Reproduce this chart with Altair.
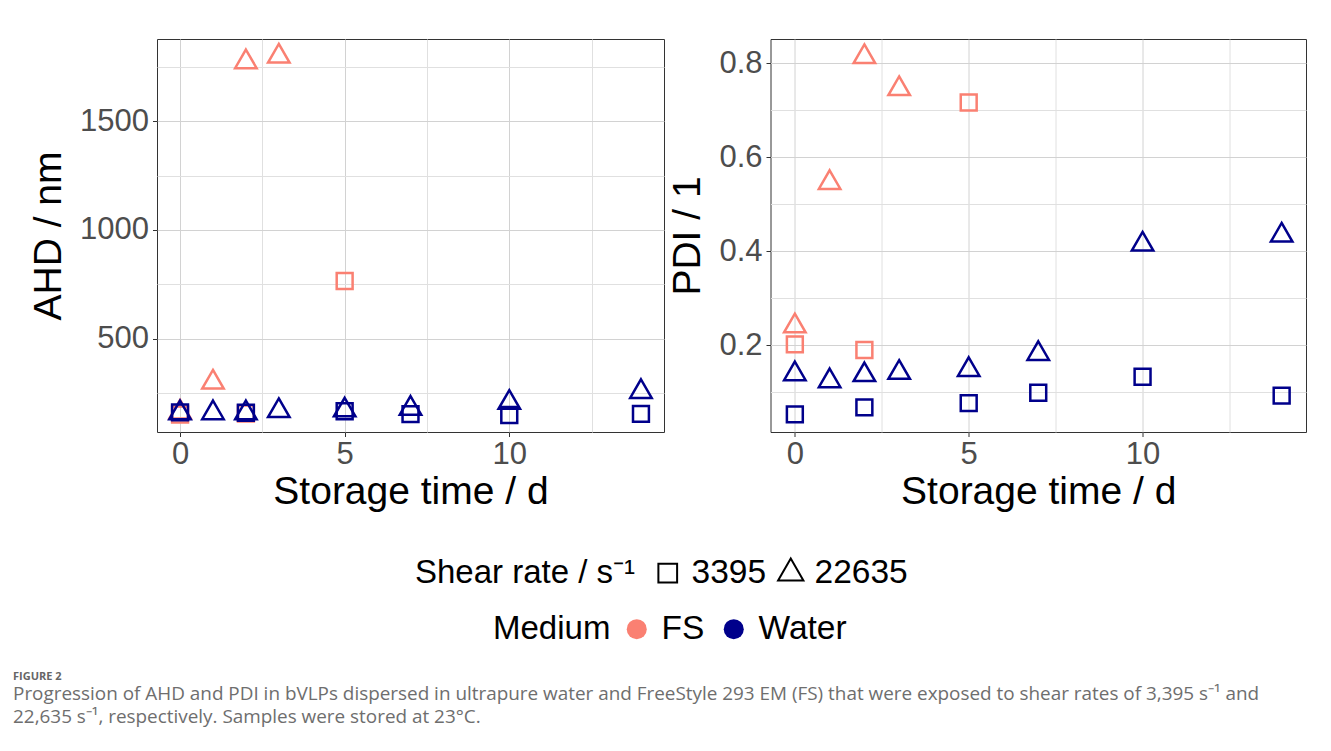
import altair as alt
import pandas as pd

# ---------------- data ----------------
times_fs_sq = [0, 2, 5]
times_fs_tri = [0, 1, 2, 3]
times_w_sq = [0, 2, 5, 7, 10, 14]
times_w_tri = [0, 1, 2, 3, 5, 7, 10, 14]

ahd_fs_sq = [150, 155, 765]
ahd_fs_tri = [160, 298, 1773, 1799]
ahd_w_sq = [160, 158, 165, 152, 148, 153]
ahd_w_tri = [157, 157, 157, 167, 170, 178, 205, 255]

pdi_fs_sq = [0.202, 0.190, 0.717]
pdi_fs_tri = [0.241, 0.546, 0.814, 0.746]
pdi_w_sq = [0.053, 0.068, 0.077, 0.099, 0.133, 0.093]
pdi_w_tri = [0.139, 0.124, 0.137, 0.142, 0.148, 0.182, 0.415, 0.434]

media = ["FS", "Water"]
shear_rates = ["3395", "22635"]
medium_colors = ["#FA8072", "#00008B"]

x_grid_values = [0, 2.5, 5, 7.5, 10, 12.5]
ahd_grid_values = [250, 500, 750, 1000, 1250, 1500, 1750]
pdi_grid_values = [0.1, 0.2, 0.3, 0.4, 0.5, 0.6, 0.7, 0.8]

caption_head = "FIGURE 2"
caption_lines = [
    "Progression of AHD and PDI in bVLPs dispersed in ultrapure water and FreeStyle 293 EM (FS) that were exposed to shear rates of 3,395 s\u207b\u00b9 and",
    "22,635 s\u207b\u00b9, respectively. Samples were stored at 23\u00b0C.",
]


def build(fs_sq, fs_tri, w_sq, w_tri):
    rows = []
    for t, v in zip(times_fs_sq, fs_sq):
        rows.append(("FS", "3395", t, v))
    for t, v in zip(times_fs_tri, fs_tri):
        rows.append(("FS", "22635", t, v))
    for t, v in zip(times_w_sq, w_sq):
        rows.append(("Water", "3395", t, v))
    for t, v in zip(times_w_tri, w_tri):
        rows.append(("Water", "22635", t, v))
    return pd.DataFrame(rows, columns=["Medium", "Shear", "Time", "Value"])


df_ahd = build(ahd_fs_sq, ahd_fs_tri, ahd_w_sq, ahd_w_tri)
df_pdi = build(pdi_fs_sq, pdi_fs_tri, pdi_w_sq, pdi_w_tri)

FONT = "Liberation Sans"
SQUARE = "M-0.74,-0.74L0.74,-0.74L0.74,0.74L-0.74,0.74Z"
TRIANGLE = "M0,-1.155L1,0.577L-1,0.577Z"

shape_legend = alt.Legend(
    orient="none", legendX=258, legendY=517, direction="horizontal",
    titleOrient="left", title="Shear rate / s\u207b\u00b9", titleLimit=600,
    titleFont=FONT, titleFontSize=33, titleFontWeight="normal", titleColor="black",
    titleBaseline="middle", titlePadding=15,
    labelFont=FONT, labelFontSize=33.5, labelColor="black", labelOffset=7,
    symbolSize=640, columnPadding=7,
    symbolStrokeColor="black", symbolFillColor="transparent", symbolStrokeWidth=2,
)
color_legend = alt.Legend(
    orient="none", legendX=336, legendY=573, direction="horizontal",
    titleOrient="left", title="Medium", titleLimit=600,
    titleFont=FONT, titleFontSize=33, titleFontWeight="normal", titleColor="black",
    titleBaseline="middle", titlePadding=9,
    labelFont=FONT, labelFontSize=33.5, labelColor="black", labelOffset=8,
    symbolType="circle", symbolSize=400, columnPadding=12, symbolStrokeWidth=0,
    symbolOpacity=1,
)


def panel(df, ytitle, ydomain, ygrid, major_test, yfmt, width):
    x_axis = alt.Axis(
        values=x_grid_values,
        labelExpr="datum.value % 5 == 0 ? datum.label : ''",
        tickOpacity={"condition": {"test": "datum.value % 5 != 0", "value": 0}, "value": 1},
        gridColor={"condition": {"test": "datum.value % 5 != 0", "value": "#e0e0e0"}, "value": "#d2d2d2"},
        title="Storage time / d",
    )
    y_axis = alt.Axis(
        values=ygrid, format=yfmt,
        labelExpr=f"({major_test}) ? datum.label : ''",
        tickOpacity={"condition": {"test": f"!({major_test})", "value": 0}, "value": 1},
        gridColor={"condition": {"test": f"!({major_test})", "value": "#e0e0e0"}, "value": "#d2d2d2"},
        title=ytitle,
    )
    xenc = alt.X("Time:Q", scale=alt.Scale(domain=[-0.7, 14.7], nice=False, zero=False), axis=x_axis)
    yenc = alt.Y("Value:Q", scale=alt.Scale(domain=ydomain, nice=False, zero=False), axis=y_axis)
    legend_layer = alt.Chart(df).mark_circle(size=0, opacity=1).encode(
        x=xenc, y=yenc,
        color=alt.Color("Medium:N", scale=alt.Scale(domain=media, range=medium_colors), legend=color_legend),
    )
    pts = alt.Chart(df).mark_point(filled=False, strokeWidth=2.5, size=462, opacity=1).encode(
        x=xenc, y=yenc,
        stroke=alt.Stroke("Medium:N", scale=alt.Scale(domain=media, range=medium_colors), legend=None),
        shape=alt.Shape("Shear:N", scale=alt.Scale(domain=shear_rates, range=[SQUARE, TRIANGLE]), legend=shape_legend),
    )
    return alt.layer(legend_layer, pts).properties(width=width, height=393)


left = panel(df_ahd, "AHD / nm", [69.5, 1879], ahd_grid_values, "datum.value % 500 == 0", "d", 507)
right = panel(df_pdi, "PDI / 1", [0.0155, 0.852], pdi_grid_values, "round(datum.value * 10) % 2 == 0", ".1f", 535.5)

chart = alt.hconcat(left, right, spacing=2.5).properties(
    padding={"left": 5, "top": 30, "right": 10, "bottom": 12},
    title=alt.TitleParams(
        text=caption_head, subtitle=caption_lines, orient="bottom", anchor="start",
        font="Open Sans", fontSize=11, fontWeight="bold", color="#666666",
        subtitleFont="Open Sans", subtitleFontSize=18.9, subtitleColor="#6e6e6e",
        subtitleLineHeight=23, subtitlePadding=3, offset=25, dx=-16,
    ),
).configure_view(
    stroke="#333333", strokeWidth=1
).configure_axis(
    domain=False, tickColor="#333333", tickSize=4.5, tickWidth=1,
    labelFont=FONT, labelFontSize=31, labelColor="#4d4d4d", labelPadding=4,
    titleFont=FONT, titleFontSize=39, titleFontWeight="normal", titleColor="black",
    titlePadding=11, gridWidth=1,
).configure_axisX(labelPadding=3, titlePadding=3)

chart.save("out.html", embed_options={"renderer": "svg", "actions": False})
